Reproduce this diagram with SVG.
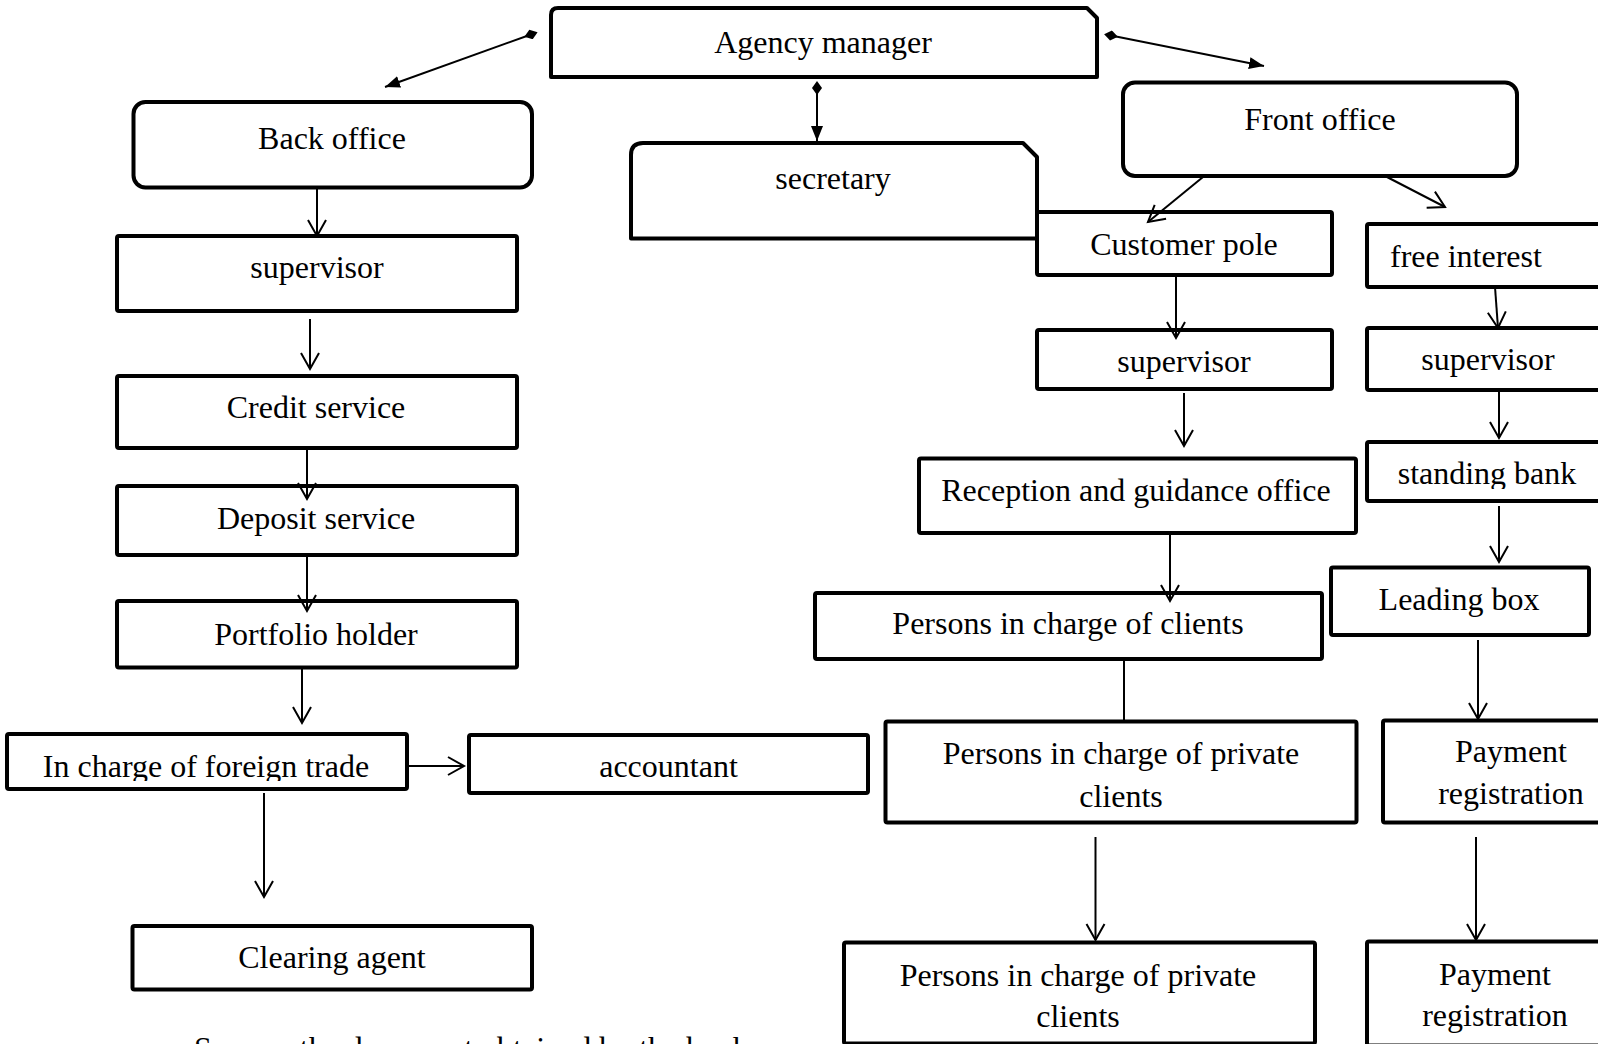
<svg xmlns="http://www.w3.org/2000/svg" width="1598" height="1044" viewBox="0 0 1598 1044">
<defs>
<style>
.box{fill:#fff;stroke:#000;stroke-width:4;stroke-linejoin:round}
.t{font-family:"Liberation Serif","Times New Roman",serif;font-size:32px;fill:#000;text-anchor:middle}
.c{stroke:#000;stroke-width:2;fill:none}
</style>
<marker id="open" markerUnits="userSpaceOnUse" markerWidth="22" markerHeight="22" refX="17" refY="10" orient="auto">
<path d="M1,1 L17,10 L1,19" fill="none" stroke="#000" stroke-width="2"/>
</marker>
<marker id="fill" markerUnits="userSpaceOnUse" markerWidth="18" markerHeight="14" refX="15" refY="6" orient="auto">
<path d="M0,0 L15,6 L0,12 z" fill="#000"/>
</marker>
<marker id="dia" markerUnits="userSpaceOnUse" markerWidth="16" markerHeight="12" refX="7" refY="5" orient="auto">
<path d="M0,5 L7,0 L14,5 L7,10 z" fill="#000"/>
</marker>
<clipPath id="clipFT"><rect x="0" y="730" width="420" height="51"/></clipPath>
<clipPath id="clipSB"><rect x="1360" y="440" width="240" height="49"/></clipPath>
</defs>
<rect width="1598" height="1044" fill="#fff"/>

<g id="agency-manager">
<path class="box" d="M551,77 L551,15 Q551,8 558,8 L1087,8 L1097,18 L1097,77 Z"/>
<text class="t" x="823" y="53">Agency manager</text>
</g>
<g id="back-office">
<rect class="box" x="133.5" y="102" width="398.5" height="85.5" rx="12"/>
<text class="t" x="332" y="149">Back office</text>
</g>
<g id="secretary">
<path class="box" d="M631,238.5 L631,155 Q631,143 643,143 L1023,143 L1037,157 L1037,238.5 Z"/>
<text class="t" x="833" y="188.5">secretary</text>
</g>
<g id="front-office">
<rect class="box" x="1123" y="82.5" width="394" height="93.5" rx="12"/>
<text class="t" x="1320" y="129.5">Front office</text>
</g>
<g id="customer-pole">
<rect class="box" x="1037" y="212" width="295" height="63" rx="2"/>
<text class="t" x="1184" y="255">Customer pole</text>
</g>
<g id="free-interest">
<rect class="box" x="1367" y="224" width="245" height="63" rx="2"/>
<text class="t" x="1390" y="267" style="text-anchor:start">free interest</text>
</g>
<g id="supervisor-back">
<rect class="box" x="117" y="236" width="400" height="75" rx="2"/>
<text class="t" x="317" y="278">supervisor</text>
</g>
<g id="credit-service">
<rect class="box" x="117" y="376" width="400" height="72" rx="2"/>
<text class="t" x="316" y="418">Credit service</text>
</g>
<g id="deposit-service">
<rect class="box" x="117" y="486" width="400" height="69" rx="2"/>
<text class="t" x="316" y="529">Deposit service</text>
</g>
<g id="portfolio-holder">
<rect class="box" x="117" y="601" width="400" height="66.5" rx="2"/>
<text class="t" x="316" y="645">Portfolio holder</text>
</g>
<g id="foreign-trade">
<rect class="box" x="7" y="734" width="400" height="55" rx="2"/>
<text class="t" x="206" y="776.5" clip-path="url(#clipFT)">In charge of foreign trade</text>
</g>
<g id="accountant">
<rect class="box" x="469" y="735" width="399" height="58" rx="2"/>
<text class="t" x="668.5" y="776.5">accountant</text>
</g>
<g id="clearing-agent">
<rect class="box" x="132.5" y="926" width="399.5" height="63.5" rx="2"/>
<text class="t" x="332" y="968">Clearing agent</text>
</g>
<g id="supervisor-customer">
<rect class="box" x="1037" y="330" width="295" height="59" rx="2"/>
<text class="t" x="1184" y="372">supervisor</text>
</g>
<g id="reception">
<rect class="box" x="919" y="458.5" width="437" height="74.5" rx="2"/>
<text class="t" x="1136" y="501">Reception and guidance office</text>
</g>
<g id="persons-clients">
<rect class="box" x="815" y="593" width="507" height="66" rx="2"/>
<text class="t" x="1068" y="634">Persons in charge of clients</text>
</g>
<g id="private-clients-1">
<rect class="box" x="885.5" y="721.5" width="471" height="101" rx="2"/>
<text class="t" x="1121" y="764">Persons in charge of private</text>
<text class="t" x="1121" y="807">clients</text>
</g>
<g id="private-clients-2">
<rect class="box" x="844" y="942.5" width="471" height="101" rx="2"/>
<text class="t" x="1078" y="985.5">Persons in charge of private</text>
<text class="t" x="1078" y="1027">clients</text>
</g>
<g id="supervisor-free">
<rect class="box" x="1367" y="328" width="245" height="62" rx="2"/>
<text class="t" x="1488" y="370">supervisor</text>
</g>
<g id="standing-bank">
<rect class="box" x="1367" y="442" width="245" height="59" rx="2"/>
<text class="t" x="1487" y="484" clip-path="url(#clipSB)">standing bank</text>
</g>
<g id="leading-box">
<rect class="box" x="1331" y="567.5" width="258" height="67.5" rx="2"/>
<text class="t" x="1459" y="609.5">Leading box</text>
</g>
<g id="payment-1">
<rect class="box" x="1383" y="720.5" width="229" height="102" rx="2"/>
<text class="t" x="1511" y="762">Payment</text>
<text class="t" x="1511" y="804">registration</text>
</g>
<g id="payment-2">
<rect class="box" x="1367" y="941.5" width="245" height="104" rx="2"/>
<text class="t" x="1495" y="984.5">Payment</text>
<text class="t" x="1495" y="1026">registration</text>
</g>

<g id="connectors">
<line class="c" x1="531" y1="34.5" x2="385" y2="87" marker-start="url(#dia)" marker-end="url(#fill)"/>
<line class="c" x1="1111" y1="35.5" x2="1264" y2="66" marker-start="url(#dia)" marker-end="url(#fill)"/>
<line class="c" x1="817" y1="88" x2="817" y2="141" marker-start="url(#dia)" marker-end="url(#fill)"/>
<line class="c" x1="317" y1="188" x2="317" y2="236" marker-end="url(#open)"/>
<line class="c" x1="310" y1="319" x2="310" y2="369" marker-end="url(#open)"/>
<line class="c" x1="307" y1="448" x2="307" y2="499" marker-end="url(#open)"/>
<line class="c" x1="307" y1="555" x2="307" y2="611" marker-end="url(#open)"/>
<line class="c" x1="302" y1="668" x2="302" y2="723" marker-end="url(#open)"/>
<line class="c" x1="407" y1="766" x2="464" y2="766" marker-end="url(#open)"/>
<line class="c" x1="264" y1="793" x2="264" y2="897" marker-end="url(#open)"/>
<line class="c" x1="1203" y1="177" x2="1148" y2="222" marker-end="url(#open)"/>
<line class="c" x1="1387" y1="177" x2="1445" y2="207" marker-end="url(#open)"/>
<line class="c" x1="1176" y1="275" x2="1176" y2="338" marker-end="url(#open)"/>
<line class="c" x1="1184" y1="393" x2="1184" y2="446" marker-end="url(#open)"/>
<line class="c" x1="1170" y1="533" x2="1170" y2="601" marker-end="url(#open)"/>
<line class="c" x1="1124" y1="659" x2="1124" y2="721"/>
<line class="c" x1="1095.5" y1="837" x2="1095.5" y2="940" marker-end="url(#open)"/>
<line class="c" x1="1495" y1="287" x2="1498" y2="328" marker-end="url(#open)"/>
<line class="c" x1="1499" y1="390" x2="1499" y2="438" marker-end="url(#open)"/>
<line class="c" x1="1499" y1="506" x2="1499" y2="562" marker-end="url(#open)"/>
<line class="c" x1="1478" y1="640" x2="1478" y2="719" marker-end="url(#open)"/>
<line class="c" x1="1476" y1="837" x2="1476" y2="940" marker-end="url(#open)"/>
</g>
<text class="t" x="194" y="1059" style="text-anchor:start">Source: the document obtained by the bank</text>
</svg>
